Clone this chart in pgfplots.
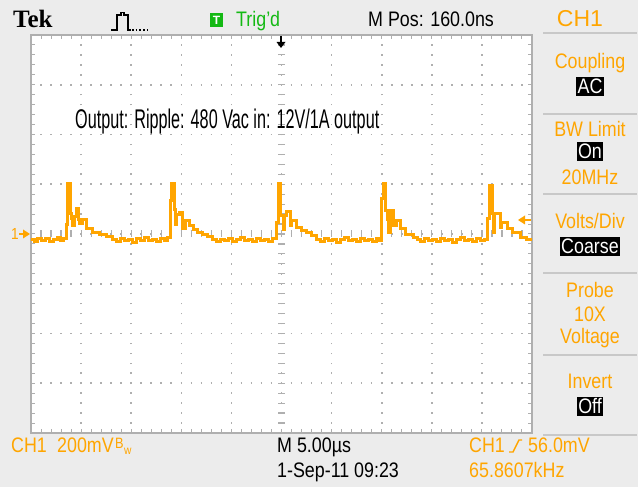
\documentclass[border=0pt]{standalone}
\usepackage{fontspec}
\setmainfont{Liberation Sans}
\newfontfamily\tekf[FakeStretch=0.85]{Liberation Sans}
\newfontfamily\narrowf[FakeStretch=0.6]{Liberation Sans}
\newfontfamily\logof{Liberation Serif}
\usepackage{pgfplots}
\pgfplotsset{compat=1.18}
\definecolor{scope}{RGB}{255,165,0}
\definecolor{bg}{RGB}{236,236,236}
\definecolor{grat}{RGB}{175,175,175}
\definecolor{trig}{RGB}{20,185,20}
\definecolor{divl}{RGB}{200,200,200}
\begin{document}
\begin{tikzpicture}
\fill[bg] (0,0) rectangle (638pt,487pt);
\path[use as bounding box] (0,0) rectangle (638pt,487pt);
\begin{axis}[
  at={(31pt,54pt)}, anchor=south west,
  scale only axis, width=501pt, height=398pt,
  xmin=-25, xmax=25, ymin=-800, ymax=800,
  xtick={-25,-20,...,25}, ytick={-800,-600,...,800},
  minor x tick num=4, minor y tick num=4,
  xticklabels={}, yticklabels={},
  tick align=inside, major tick length=4pt, minor tick length=4pt,
  tick style={grat, line width=1pt},
  axis line style={grat, line width=1.2pt},
  xmajorgrids, ymajorgrids,
  x grid style={grat, line width=1.6pt, dash pattern=on 1.6pt off 8.35pt, dash phase=0.8pt},
  y grid style={grat, line width=1.6pt, dash pattern=on 1.6pt off 8.42pt, dash phase=0.8pt},
  axis background/.style={fill=white},
]
\draw[grat, line width=7pt, dash pattern=on 1.2pt off 8.75pt, dash phase=0.6pt] (axis cs:0,-800) -- (axis cs:0,800);
\draw[grat, line width=7pt, dash pattern=on 1.2pt off 8.82pt, dash phase=0.6pt] (axis cs:-25,0) -- (axis cs:25,0);
\addplot[const plot, color=scope, line width=3pt] coordinates {
(-25.05,-24) (-24.7,-32) (-24.4,-20) (-24.0,-28) (-23.6,-20) (-23.2,-32) (-22.8,-24) (-22.4,-16) (-22.1,-28) (-21.8,-20)
(-21.48,40) (-21.32,201) (-21.08,84) (-20.95,64) (-20.85,36) (-20.7,72) (-20.5,104) (-20.3,60) (-20.15,44) (-19.85,60) (-19.45,24) (-18.85,8) (-18.15,-4) (-17.5,-12) (-16.85,-24)
(-16.5,-32) (-16.1,-20) (-15.7,-28) (-15.3,-24) (-14.9,-36) (-14.5,-20) (-14.1,-28) (-13.7,-16) (-13.3,-28) (-12.9,-24) (-12.5,-32) (-12.1,-20) (-11.7,-28) (-11.4,-16)
(-11.08,136) (-10.95,201) (-10.72,100) (-10.6,40) (-10.45,80) (-10.15,88) (-9.85,24) (-9.55,56) (-9.15,36) (-8.75,20) (-8.35,8) (-7.85,-4) (-7.35,-12) (-6.9,-24)
(-6.5,-32) (-6.1,-24) (-5.7,-28) (-5.3,-20) (-4.9,-32) (-4.5,-24) (-4.1,-16) (-3.7,-28) (-3.3,-24) (-2.9,-32) (-2.5,-20) (-2.1,-28) (-1.7,-24) (-1.3,-32) (-0.9,-20)
(-0.48,48) (-0.25,201) (-0.06,76) (0.15,20) (0.25,76) (0.5,92) (0.85,36) (1.0,56) (1.45,28) (2.0,16) (2.5,4) (3.0,-8) (3.5,-24)
(3.9,-32) (4.3,-20) (4.7,-28) (5.1,-24) (5.5,-36) (5.9,-24) (6.3,-16) (6.7,-28) (7.1,-24) (7.5,-32) (7.9,-20) (8.3,-28) (8.7,-24) (9.1,-32) (9.5,-20) (9.75,-28)
(9.95,144) (10.18,201) (10.38,96) (10.55,60) (10.65,4) (10.85,96) (11.15,36) (11.5,56) (11.85,24) (12.35,-4) (13.15,-16) (13.55,-24)
(13.9,-32) (14.3,-20) (14.7,-28) (15.1,-24) (15.5,-32) (15.9,-20) (16.3,-28) (16.7,-24) (17.1,-36) (17.5,-24) (17.9,-16) (18.3,-28) (18.7,-24) (19.1,-32) (19.5,-20) (19.9,-28) (20.25,-24)
(20.52,64) (20.72,193) (21.02,84) (21.12,8) (21.22,84) (21.85,28) (22.0,48) (22.52,24) (23.02,4) (23.85,-16) (24.45,-24) (24.95,-24)
};
\end{axis}
\begin{scope}[x=1pt,y=-1pt,yshift=487pt]
% top bar
\node[anchor=base west, inner sep=0, font=\logof\bfseries\fontsize{25}{25}\selectfont] at (13,28) {Tek};
\draw[line width=1.3pt] (111,30)--(117,30)--(117,15)--(121,15)--(121,12.5)--(124,12.5)--(124,15)--(128,15)--(128,30)--(131,30);
\draw[line width=1.3pt, dash pattern=on 1.5pt off 2.2pt] (132,30)--(147,30);
\fill[trig] (210,13) rectangle (223,27);
\node[anchor=center, inner sep=0, text=white, font=\bfseries\fontsize{12}{12}\selectfont] at (216.5,20) {T};
\node[anchor=base west, inner sep=0, text=trig, font=\tekf\fontsize{21}{21}\selectfont] at (236,27) {Trig’d};
\node[anchor=base west, inner sep=0, font=\tekf\fontsize{21}{21}\selectfont] at (368,27) {M Pos: 160.0ns};
\node[anchor=base, inner sep=0, text=scope, font=\fontsize{23}{23}\selectfont] at (580,27) {CH1};
% trigger position marker
\draw[line width=1.5pt] (281,36)--(281,43);
\fill (276.5,42)--(285.5,42)--(281,48)--cycle;
% ground marker and trigger level
\node[anchor=base west, inner sep=0, text=scope, font=\tekf\fontsize{16}{16}\selectfont] at (11,240) {1};
\draw[scope, line width=1.5pt] (19,234)--(25,234);
\fill[scope] (23,229.5)--(30,234)--(23,238.5)--cycle;
\fill[scope] (518,220)--(525,215.5)--(525,224.5)--cycle;
\draw[scope, line width=1.5pt] (524,220)--(531,220);
% annotation
\node[anchor=base west, inner sep=0, font=\narrowf\fontsize{27}{27}\selectfont] at (75,129) {Output: Ripple: 480 Vac in: 12V/1A output};
% right panel
\foreach \yy in {33,114,194,273,355,435} \draw[divl, line width=1.5pt] (543,\yy)--(637,\yy);
\tikzset{pt/.style={anchor=base, inner sep=0, text=scope, font=\tekf\fontsize{21}{21}\selectfont},
         bx/.style={anchor=base, fill=black, text=white, inner xsep=1.5pt, inner ysep=2pt, font=\tekf\fontsize{21}{21}\selectfont}}
\node[pt] at (590,69) {Coupling};
\node[bx] at (590,94) {AC};
\node[pt] at (590,137) {BW Limit};
\node[bx] at (590,159) {On};
\node[pt] at (590,185) {20MHz};
\node[pt] at (590,229) {Volts/Div};
\node[bx] at (590,254) {Coarse};
\node[pt] at (590,298) {Probe};
\node[pt] at (590,322) {10X};
\node[pt] at (590,344) {Voltage};
\node[pt] at (590,389) {Invert};
\node[bx] at (590,414) {Off};
% bottom bar
\tikzset{bt/.style={anchor=base west, inner sep=0, font=\tekf\fontsize{21}{21}\selectfont}}
\node[bt, text=scope] at (11,453) {CH1};
\node[bt, text=scope] at (57,453) {200mV};
\node[anchor=base west, inner sep=0, text=scope, font=\tekf\fontsize{15}{15}\selectfont] at (115,449) {B};
\node[anchor=base west, inner sep=0, text=scope, font=\tekf\fontsize{12}{12}\selectfont] at (124,455) {w};
\node[bt] at (277,453) {M 5.00µs};
\node[bt, text=scope] at (469,453) {CH1};
\draw[scope, line width=1.4pt] (509,452)--(513,452)--(519,440)--(522,440);
\node[anchor=base west, inner sep=0, text=scope, font=\tekf\fontsize{21}{21}\selectfont] at (528,453) {56.0mV};
\node[bt] at (277,478) {1-Sep-11 09:23};
\node[bt, text=scope] at (469,478) {65.8607kHz};
\end{scope}
\end{tikzpicture}
\end{document}
